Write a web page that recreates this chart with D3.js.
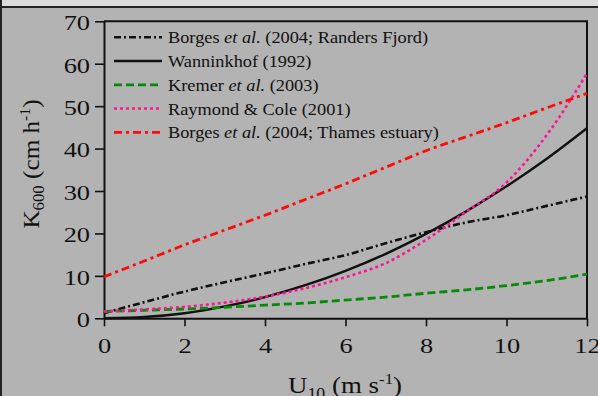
<!DOCTYPE html>
<html lang="en">
<head>
<meta charset="utf-8">
<script src="https://d3js.org/d3.v7.min.js"></script>
<style>
  body { margin: 0; background: #b3b3b3; }
  svg { display: block; }
  text { font-family: "Liberation Serif", "Times New Roman", serif; fill: #111; }
</style>
</head>
<body>
<div id="chart"></div>
<script>
var windSpeed = [0, 1, 2, 3, 4, 5, 6, 7, 8, 9, 10, 11, 12];

// K600 (cm/h) for each parameterisation
var borgesRanders = [1.2, 3.8, 6.3, 8.5, 10.6, 12.8, 14.9, 17.7, 20.3, 22.6, 24.3, 26.5, 28.7];
var wanninkhof    = [0, 0.3, 1.2, 2.8, 5.0, 7.8, 11.2, 15.2, 19.9, 25.2, 31.1, 37.6, 44.8];
var kremer        = [1.6, 1.9, 2.2, 2.6, 3.1, 3.6, 4.3, 5.0, 5.9, 6.7, 7.7, 8.9, 10.4];
var raymondCole   = [1.6, 2.1, 2.7, 3.7, 5.1, 7.1, 9.7, 13.0, 18.5, 25.1, 32.0, 43.2, 57.7];
var borgesThames  = [9.8, 13.5, 17.3, 20.8, 24.3, 28.0, 31.7, 35.6, 39.5, 42.8, 46.1, 49.6, 53.0];

// legend labels, split where the italic part goes
var legendLabels = [
    ["Borges ", "et al.", " (2004; Randers Fjord)"],
    ["Wanninkhof (1992)", "", ""],
    ["Kremer ", "et al.", " (2003)"],
    ["Raymond & Cole (2001)", "", ""],
    ["Borges ", "et al.", " (2004; Thames estuary)"]
];

var xTicks = [0, 2, 4, 6, 8, 10, 12];
var yTicks = [0, 10, 20, 30, 40, 50, 60, 70];

var width = 598;
var height = 396;

var series = [
    {values: borgesRanders, color: "#111111", dash: "7,3,2,3", w: 2.6},
    {values: wanninkhof,    color: "#111111", dash: null,      w: 2.4},
    {values: kremer,        color: "#078a07", dash: "8,4",     w: 2.8},
    {values: raymondCole,   color: "#ff1493", dash: "3,3",     w: 2.6},
    {values: borgesThames,  color: "#ff0a0a", dash: "8,4,3,4", w: 2.8}
];

var svg = d3.select("#chart")
            .append("svg")
            .attr("width", width)
            .attr("height", height);

// window chrome
svg.append("rect").attr("width", width).attr("height", height).attr("fill", "#b3b3b3");
svg.append("rect").attr("width", width).attr("height", 6).attr("fill", "#dcdcdc");
svg.append("rect").attr("y", 6).attr("width", width).attr("height", 2).attr("fill", "#222");
svg.append("rect").attr("width", 2).attr("height", height).attr("fill", "#222");

var xScale = d3.scaleLinear().domain([0, 12]).range([104, 587]);
var yScale = d3.scaleLinear().domain([0, 70]).range([318.3, 21.3]);

var sx = 1.2; // glyphs in the picture are a bit wider than Times

// frame (top + right)
svg.append("path")
    .attr("d", "M" + xScale(0) + "," + yScale(70) + "H" + xScale(12) + "V" + yScale(0))
    .attr("fill", "none")
    .attr("stroke", "#111")
    .attr("stroke-width", 2);

// axes
var xAxis = d3.axisBottom(xScale).tickValues(xTicks).tickSizeInner(8).tickSizeOuter(0).tickPadding(11);
var yAxis = d3.axisLeft(yScale).tickValues(yTicks).tickSizeInner(9).tickSizeOuter(0).tickPadding(5);

var gx = svg.append("g")
    .attr("transform", "translate(0," + yScale(0) + ")")
    .call(xAxis);
var gy = svg.append("g")
    .attr("transform", "translate(" + xScale(0) + ",0)")
    .call(yAxis);

[gx, gy].forEach(function(g) {
    g.select(".domain").attr("stroke", "#111").attr("stroke-width", 2);
    g.selectAll(".tick line").attr("stroke", "#111").attr("stroke-width", 1.6);
    g.selectAll(".tick text")
        .attr("fill", "#111")
        .style("font-family", "'Liberation Serif', serif")
        .style("font-size", "22px");
});
gx.selectAll(".tick text").attr("dy", "0.71em")
    .attr("transform", "scale(" + sx + ",1)");
gy.selectAll(".tick text")
    .attr("x", -14 / sx)
    .attr("dy", "0.38em")
    .attr("transform", "scale(" + sx + ",1)");

// curves
var line = d3.line()
    .x(function(d, i) { return xScale(windSpeed[i]); })
    .y(function(d) { return yScale(d); })
    .curve(d3.curveMonotoneX);

svg.append("g")
    .selectAll("path")
    .data(series)
    .enter()
    .append("path")
    .attr("d", function(d) { return line(d.values); })
    .attr("fill", "none")
    .attr("stroke", function(d) { return d.color; })
    .attr("stroke-width", function(d) { return d.w; })
    .attr("stroke-dasharray", function(d) { return d.dash; });

// legend
var legend = svg.append("g");
var rowY = function(i) { return 37.3 + i * 23.75; };

legend.selectAll("line")
    .data(series)
    .enter()
    .append("line")
    .attr("x1", 114).attr("x2", 162)
    .attr("y1", function(d, i) { return rowY(i); })
    .attr("y2", function(d, i) { return rowY(i); })
    .attr("stroke", function(d) { return d.color; })
    .attr("stroke-width", function(d) { return d.w; })
    .attr("stroke-dasharray", function(d) { return d.dash; });

var legText = legend.selectAll("text")
    .data(legendLabels)
    .enter()
    .append("text")
    .attr("transform", function(d, i) { return "translate(168," + (rowY(i) + 6) + ") scale(1.145,1)"; })
    .style("font-size", "16px");
legText.append("tspan").text(function(d) { return d[0]; });
legText.append("tspan").style("font-style", "italic").text(function(d) { return d[1]; });
legText.append("tspan").text(function(d) { return d[2]; });

// y axis title
var yt = svg.append("text")
    .attr("transform", "translate(38.5,164) rotate(-90) scale(1.05,1)")
    .attr("text-anchor", "middle")
    .style("font-size", "24px");
yt.append("tspan").text("K");
yt.append("tspan").attr("dy", 5).style("font-size", "16px").text("600");
yt.append("tspan").attr("dy", -5).text(" (cm h");
yt.append("tspan").attr("dy", -9).style("font-size", "15px").text("-1");
yt.append("tspan").attr("dy", 9).text(")");

// x axis title
var xt = svg.append("text")
    .attr("transform", "translate(345,392.7) scale(1.12,1)")
    .attr("text-anchor", "middle")
    .style("font-size", "24px");
xt.append("tspan").text("U");
xt.append("tspan").attr("dy", 6).style("font-size", "16px").text("10");
xt.append("tspan").attr("dy", -6).text(" (m s");
xt.append("tspan").attr("dy", -9).style("font-size", "15px").text("-1");
xt.append("tspan").attr("dy", 9).text(")");
</script>
</body>
</html>
